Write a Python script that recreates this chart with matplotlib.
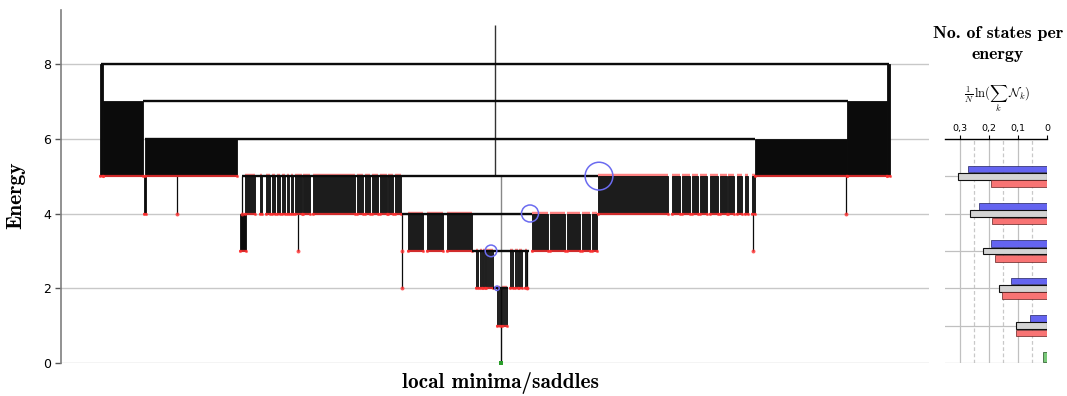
import matplotlib
matplotlib.use("Agg")
import matplotlib.pyplot as plt
import numpy as np

plt.rcParams['mathtext.fontset'] = 'cm'

# ---------------- data: disconnectivity graph ----------------
# horizontal saddle lines (energy level, x start, x end) in leaf-position units
saddle_E = [8, 7, 6, 5, 4, 3, 2]
saddle_x0 = [40, 82, 84, 181, 341, 411, 432]
saddle_x1 = [828, 787, 694, 537, 471, 468, 447]

# densely packed bundles of branches (x start, x end, top energy, bottom energy)
dense_x0 = [39, 42, 84, 694, 786, 826, 83, 179]
dense_x1 = [42, 82, 176, 786, 826, 829, 85, 185]
dense_top = [8, 7, 6, 6, 7, 8, 5, 4]
dense_bot = [5, 5, 5, 5, 5, 5, 4, 3]

# branch bundles from E=5 down to E=4 (left side)
b54L_x0 = [184, 199, 205, 211, 216, 221, 226, 230, 234, 242, 252, 296, 304, 311, 319, 327, 334]
b54L_x1 = [194, 201, 209, 214, 219, 224, 228, 232, 241, 249, 294, 302, 309, 317, 326, 332, 340]
# from E=5 down to E=4 (right side)
b54R_x0 = [537, 611, 621, 631, 639, 649, 659, 667, 676, 684, 691]
b54R_x1 = [607, 619, 629, 637, 646, 657, 666, 673, 681, 687, 694]
# from E=4 down to E=3
b43_x0 = [347, 366, 386, 471, 489, 506, 521, 531]
b43_x1 = [362, 382, 411, 487, 504, 519, 529, 536]
# from E=3 down to E=2
b32_x0 = [415, 419, 422, 425, 449, 454, 458, 464]
b32_x1 = [417, 421, 424, 432, 452, 457, 461, 466]
# from E=2 down to E=1
b21_x0 = [436, 441]
b21_x1 = [439, 446]

# single branches (x, top energy, bottom energy)
leaf_x = [116, 181, 237, 341, 692, 785, 466]
leaf_top = [5, 5, 4, 4, 4, 5, 3]
leaf_bot = [4, 4, 3, 2, 3, 4, 2]

root_x, root_top, root_bot = 434, 9.05, 5
gmin_x, gmin_top, gmin_bot = 439.5, 5, 0

# highlighted basins (x, energy, marker area)
circ_x = [538, 469, 430, 436]
circ_E = [5, 4, 3, 2]
circ_s = [400, 150, 70, 10]

# ---------------- data: side panel ----------------
levels = [5, 4, 3, 2, 1]
blue_vals = [0.271, 0.236, 0.194, 0.123, 0.060]
gray_vals = [0.308, 0.266, 0.220, 0.166, 0.108]
red_vals = [0.194, 0.189, 0.180, 0.155, 0.106]
green_level = [0]
green_vals = [0.015]

W, H = 1067, 396
fig = plt.figure(figsize=(W / 100, H / 100), dpi=100)

ax = fig.add_axes([61 / W, 1 - 363 / H, 868 / W, 353 / H])
ax.set_xlim(0, 868)
ax.set_ylim(0, 9.445)
for s in ['top', 'right', 'bottom']:
    ax.spines[s].set_visible(False)
ax.spines['left'].set_color('#7f7f7f')
ax.spines['left'].set_linewidth(1.2)
ax.set_xticks([])
ax.set_yticks([0, 2, 4, 6, 8])
ax.tick_params(axis='y', length=4, width=1, color='#555555', labelsize=9, pad=3)
for yv in [0, 2, 4, 6, 8]:
    ax.axhline(yv, color='#c8c8c8', lw=1, zorder=0)

BLK = '#0b0b0b'
RED = '#ff3030'


def bundle(x0s, x1s, tops, bots, red_top=False, color=BLK):
    x0s = np.asarray(x0s, float)
    x1s = np.asarray(x1s, float)
    tops = np.broadcast_to(np.asarray(tops, float), x0s.shape)
    bots = np.broadcast_to(np.asarray(bots, float), x0s.shape)
    ax.bar(x0s, tops - bots, width=x1s - x0s, bottom=bots, align='edge',
           color=color, edgecolor=BLK, linewidth=0.6, zorder=2)
    ax.hlines(bots, x0s - 0.8, x1s + 0.8, color=RED, lw=1.6, alpha=0.8, zorder=3)
    ax.scatter(np.concatenate([x0s, x1s]), np.concatenate([bots, bots]),
               s=5, color=RED, alpha=0.7, zorder=3, linewidths=0)
    if red_top:
        ax.hlines(tops, x0s, x1s, color=RED, lw=3.2, alpha=0.6, zorder=1.5)


bundle(dense_x0, dense_x1, dense_top, dense_bot)
bundle(b54L_x0, b54L_x1, 5, 4, red_top=True, color='#1c1c1c')
bundle(b54R_x0, b54R_x1, 5, 4, red_top=True, color='#1c1c1c')
bundle(b43_x0, b43_x1, 4, 3, red_top=True, color='#1c1c1c')
bundle(b32_x0, b32_x1, 3, 2, red_top=True, color='#222222')
bundle(b21_x0, b21_x1, 2, 1, red_top=True, color='#222222')

ax.vlines(leaf_x, leaf_bot, leaf_top, color=BLK, lw=0.9, zorder=2)
ax.scatter(leaf_x, leaf_bot, s=8, color=RED, alpha=0.8, zorder=3, linewidths=0)
ax.scatter([341], [3], s=8, color=RED, alpha=0.8, zorder=3, linewidths=0)

ax.vlines([root_x], [root_bot], [root_top], color='#333333', lw=1.0, zorder=2)
ax.vlines([gmin_x], [2], [gmin_top], color='#888888', lw=1.0, zorder=2)
ax.vlines([gmin_x], [gmin_bot], [2], color=BLK, lw=1.0, zorder=2)
ax.scatter([gmin_x], [gmin_bot], s=8, marker='s', color='#2a9d2a', zorder=4,
           clip_on=False, linewidths=0)

ax.hlines(saddle_E, saddle_x0, saddle_x1, color=BLK, lw=1.7, zorder=4)

ax.scatter(circ_x, circ_E, s=circ_s, facecolors='none', edgecolors='#6b6bf0',
           linewidths=1.1, zorder=5)

fig.text(500 / W, 1 - 383 / H, 'local minima/saddles', family='cmb10',
         fontsize=15.3, ha='center', va='center')
fig.text(16 / W, 1 - 195 / H, 'Energy', family='cmb10', fontsize=15.5,
         rotation=90, ha='center', va='center')

# ---------------- side panel ----------------
ax2 = fig.add_axes([945 / W, 1 - 363 / H, 102 / W, 224 / H])
ax2.set_ylim(0, 6)
ax2.set_xlim(0.3517, 0)
for s in ['left', 'right', 'bottom']:
    ax2.spines[s].set_visible(False)
ax2.spines['top'].set_linewidth(1.0)
ax2.xaxis.set_ticks_position('top')
ax2.set_xticks([0.3, 0.2, 0.1, 0])
ax2.set_xticklabels(['0,3', '0,2', '0,1', '0'])
ax2.tick_params(axis='x', length=3, width=0.8, labelsize=6.8, pad=1.5)
ax2.set_yticks([])
for xv in [0.3, 0.2, 0.1]:
    ax2.axvline(xv, color='#c0c0c0', lw=0.9, zorder=0)
for xv in [0.25, 0.15, 0.05]:
    ax2.axvline(xv, color='#c8c8c8', lw=0.9, ls=(0, (3, 2)), zorder=0)
for yv in range(0, 6):
    ax2.axhline(yv, color='#c0c0c0', lw=0.9, zorder=0)

lv = np.asarray(levels, float)
bh = 0.18
ax2.barh(lv + 0.2, blue_vals, height=bh, color='#6464f0', edgecolor='#202060',
         linewidth=0.5, zorder=2)
ax2.barh(lv, gray_vals, height=bh, color='#d4d4d4', edgecolor='#111111',
         linewidth=0.8, zorder=2)
ax2.barh(lv - 0.2, red_vals, height=bh, color='#f87474', edgecolor='#602020',
         linewidth=0.5, zorder=2)
ax2.barh(np.asarray(green_level, float) + 0.17, green_vals, height=0.26,
         color='#78c878', edgecolor='#205020', linewidth=0.5, zorder=2)

fig.text(998 / W, 1 - 44 / H, 'No. of states per\nenergy', family='cmb10',
         fontsize=12.8, ha='center', va='center', linespacing=1.55)
fig.text(997 / W, 1 - 99 / H, r'$\frac{1}{N}\,\ln(\sum_k\,\mathcal{N}_k)$',
         fontsize=9, ha='center', va='center')

fig.savefig('out.png', dpi=100)
